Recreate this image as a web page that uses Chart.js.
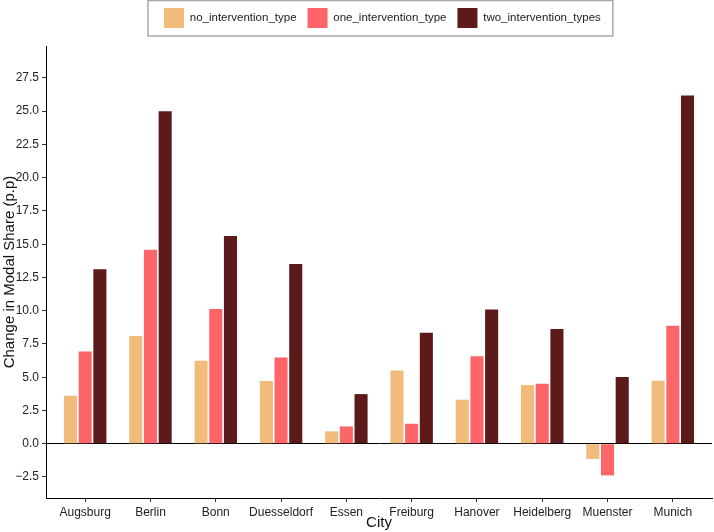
<!DOCTYPE html>
<html>
<head>
<meta charset="utf-8">
<script src="https://cdn.jsdelivr.net/npm/chart.js@4.4.1/dist/chart.umd.min.js"></script>
<style>
  html, body { margin: 0; padding: 0; background: #fff; }
  #wrap { width: 714px; height: 532px; }
</style>
</head>
<body>
<div id="wrap"><canvas id="chart" width="714" height="532"></canvas></div>
<script>
// 도시별 값
const cities = ['Augsburg', 'Berlin', 'Bonn', 'Duesseldorf', 'Essen', 'Freiburg', 'Hanover', 'Heidelberg', 'Muenster', 'Munich'];
const noIntervention = [3.61, 8.09, 6.24, 4.71, 0.93, 5.51, 3.31, 4.41, -1.15, 4.74];
const oneIntervention = [6.94, 14.59, 10.12, 6.49, 1.30, 1.50, 6.57, 4.51, -2.38, 8.87];
const twoInterventions = [13.11, 25.0, 15.61, 13.51, 3.73, 8.35, 10.10, 8.62, 5.01, 26.17];
const yTicks = [-2.5, 0, 2.5, 5, 7.5, 10, 12.5, 15, 17.5, 20, 22.5, 25, 27.5];

const FONT = '"Liberation Sans", Arial, Helvetica, sans-serif';

// 인덱스 기반 좌표로 변환
const toPoints = arr => arr.map((v, i) => ({ x: i, y: v }));

// 범례 위치 조정 + 테두리
const legendBox = {
  id: 'legendBox',
  afterInit(chart) {
    const lg = chart.legend;
    const fit = lg.fit.bind(lg);
    lg.fit = function () { fit(); this.height += 5; };
  },
  afterLayout(chart) {
    const lg = chart.legend;
    const pad = lg.options.labels.padding;
    const start = (lg.left + pad + lg.right - lg.lineWidths[0]) / 2;
    const dx = 164 - start;
    const dy = -3;
    lg.left += dx; lg.right += dx;
    lg.top += dy; lg.bottom += dy;
  },
  afterDraw(chart) {
    const boxes = chart.legend.legendHitBoxes;
    if (!boxes || !boxes.length) return;
    const first = boxes[0], last = boxes[boxes.length - 1];
    const ctx = chart.ctx;
    const x0 = first.left - 16;
    const x1 = last.left + last.width + 12;
    ctx.save();
    ctx.strokeStyle = '#a8a8a8';
    ctx.lineWidth = 1.5;
    ctx.strokeRect(x0, 0.5, x1 - x0, 35.5);
    ctx.restore();
  }
};

const ctx = document.getElementById('chart').getContext('2d');
new Chart(ctx, {
  type: 'bar',
  data: {
    datasets: [
      { label: 'no_intervention_type', data: toPoints(noIntervention), backgroundColor: '#f0bb7b' },
      { label: 'one_intervention_type', data: toPoints(oneIntervention), backgroundColor: '#fd6568' },
      { label: 'two_intervention_types', data: toPoints(twoInterventions), backgroundColor: '#5c1a1a' }
    ]
  },
  options: {
    responsive: false,
    animation: false,
    layout: { padding: { top: 0, right: 2, bottom: 0, left: 0 } },
    datasets: {
      bar: { categoryPercentage: 0.675, barPercentage: 0.89 }
    },
    scales: {
      x: {
        type: 'linear',
        min: -0.6,
        max: 9.6,
        offset: false,
        afterBuildTicks: s => { s.ticks = cities.map((c, i) => ({ value: i })); },
        afterFit: s => { s.height = 34; },
        border: { display: true, color: '#000', width: 1 },
        grid: { offset: false, drawOnChartArea: false, drawTicks: true, tickLength: 4, tickColor: '#333' },
        ticks: {
          autoSkip: false,
          maxRotation: 0,
          padding: 3,
          color: '#222',
          font: { family: FONT, size: 12 },
          callback: v => cities[v] ?? ''
        },
        title: {
          display: true,
          text: 'City',
          color: '#111',
          font: { family: FONT, size: 15 },
          padding: { top: 0, bottom: 0 }
        }
      },
      y: {
        min: -4.08,
        max: 29.9,
        afterBuildTicks: s => { s.ticks = yTicks.map(v => ({ value: v })); },
        afterFit: s => { s.width = 46; },
        border: { display: true, color: '#000', width: 1 },
        grid: {
          drawTicks: true,
          tickLength: 4,
          tickColor: '#333',
          color: c => (c.tick && c.tick.value === 0 ? '#000' : 'rgba(0,0,0,0)'),
          lineWidth: 1
        },
        ticks: {
          padding: 3,
          color: '#222',
          font: { family: FONT, size: 12 },
          callback: v => v.toFixed(1).replace('-', '\u2212')
        },
        title: {
          display: true,
          text: 'Change in Modal Share (p.p)',
          color: '#111',
          font: { family: FONT, size: 15 },
          padding: { top: 1, bottom: 0 }
        }
      }
    },
    plugins: {
      legend: {
        position: 'top',
        labels: {
          boxWidth: 20,
          boxHeight: 20,
          padding: 11,
          color: '#222',
          font: { family: FONT, size: 11.5 }
        }
      },
      tooltip: { enabled: false }
    }
  },
  plugins: [legendBox]
});
</script>
</body>
</html>
